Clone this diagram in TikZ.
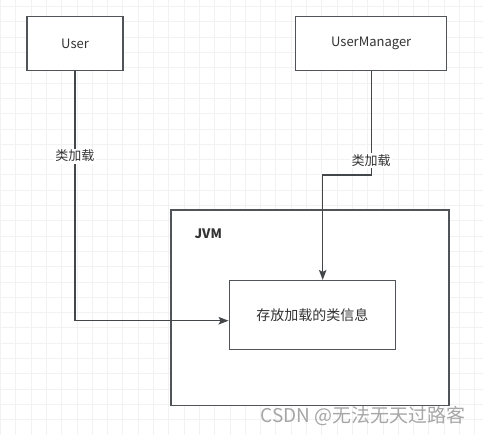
\documentclass[tikz,border=0pt]{standalone}
\usepackage{fontspec}
\setmainfont{Noto Sans CJK SC}
\usepackage{xcolor}
\usetikzlibrary{positioning, arrows.meta}
\definecolor{gridgray}{HTML}{F2F2F2}
\definecolor{boxgray}{HTML}{505357}
\definecolor{textgray}{HTML}{333333}
\definecolor{markgray}{HTML}{A6A6A6}

\begin{document}
\begin{tikzpicture}[
        x=1pt, y=-1pt,
        every node/.style={font=\fontsize{13}{15}\selectfont, text=textgray},
        mybox/.style={rectangle, draw=boxgray, line width=1.5pt, fill=white, minimum width=#1, inner sep=0pt},
        arrow/.style={-{Stealth[length=10pt, width=7.5pt, inset=2pt]}, line width=1.3pt, draw=boxgray!85!black},
        lbl/.style={fill=white, inner sep=1.5pt}
    ]
%
    % canvas and grid
    \useasboundingbox (0,0) rectangle (483,435);
    \fill[white] (0,0) rectangle (483,435);
    \foreach \i in {0,...,31} {
        \draw[gridgray, line width=1pt] (0.5+15.3*\i,0) -- (0.5+15.3*\i,435);
    }
    \foreach \j in {0,...,28} {
        \draw[gridgray, line width=1pt] (0,6.7+15.3*\j) -- (483,6.7+15.3*\j);
    }
%
    \node[mybox=96pt, minimum height=54pt] (user) at (75,43.5) {User};
    \node[mybox=151pt, minimum height=54pt] (mgr) at (371.2,43.5) {UserManager};
%
    % JVM area
    \node[mybox=277.7pt, minimum height=195.7pt] (jvm) at (309.9,307.9) {};
    \node[font=\fontsize{13}{15}\selectfont\bfseries, anchor=west] (jvmlbl) at (191,234) {JVM};
    \node[mybox=166pt, minimum height=69pt, font=\fontsize{14}{16}\selectfont] (info) at (312.3,315.2) {存放加载的类信息};
%
    \coordinate (turn) at (371.2,175);
    \draw[arrow] (user.south) |- node[lbl, pos=0.17] {类加载} ([yshift=-5.5pt]info.west);
    \draw[arrow] (mgr.south) -- node[lbl, pos=0.86] {类加载} (turn) -| ([xshift=10.4pt]info.north);
%
    \node[font=\fontsize{19}{21}\selectfont, text=markgray, anchor=east] (mark) at (469,416) {CSDN @无法无天过路客};
%
\end{tikzpicture}
\end{document}
